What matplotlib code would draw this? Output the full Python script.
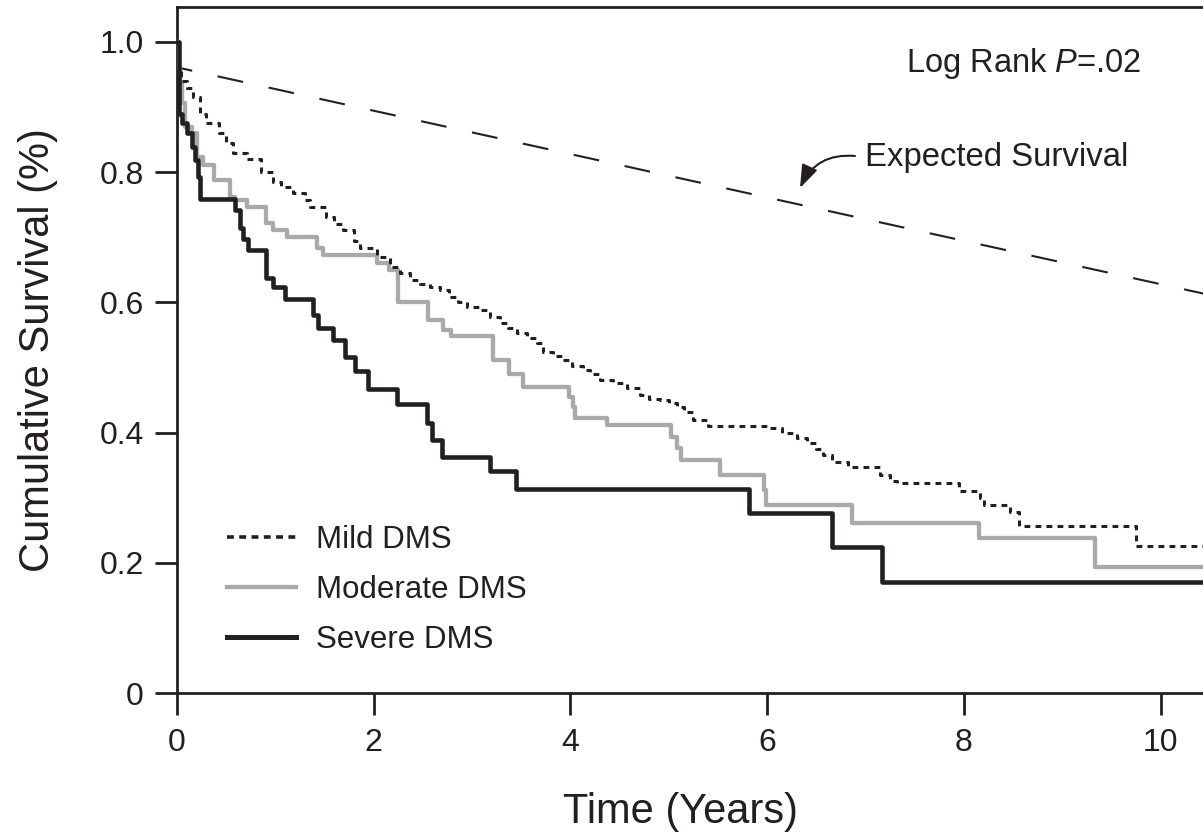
import matplotlib
matplotlib.use("Agg")
import matplotlib.pyplot as plt
from matplotlib.lines import Line2D

plt.rcParams['font.family'] = ['Liberation Sans', 'DejaVu Sans']
plt.rcParams['mathtext.fontset'] = 'custom'
plt.rcParams['mathtext.rm'] = 'Liberation Sans'
plt.rcParams['mathtext.it'] = 'Liberation Sans:italic'

INK = '#231f20'
GRAY = '#a7a9ac'

# ---- data (time in years, cumulative survival) ----
mild_t = [0, 0.02, 0.04, 0.10, 0.16, 0.23, 0.30, 0.43, 0.50, 0.57, 0.71, 0.85, 0.98,
          1.06, 1.18, 1.30, 1.35, 1.52, 1.60, 1.69, 1.80, 1.86, 2.03, 2.17, 2.27, 2.37,
          2.47, 2.57, 2.67, 2.77, 2.86, 2.95, 3.08, 3.18, 3.28, 3.37, 3.46, 3.56, 3.66,
          3.72, 3.82, 3.92, 4.02, 4.13, 4.20, 4.30, 4.43, 4.57, 4.71, 4.80, 4.91, 5.00,
          5.08, 5.15, 5.25, 5.40, 6.03, 6.15, 6.30, 6.40, 6.50, 6.57, 6.66, 6.82, 7.15,
          7.25, 7.32, 7.95, 8.16, 8.20, 8.47, 8.56, 9.75, 10.6]
mild_s = [1.0, 0.96, 0.94, 0.93, 0.916, 0.89, 0.875, 0.86, 0.845, 0.83, 0.82, 0.80, 0.785,
          0.778, 0.768, 0.757, 0.747, 0.731, 0.72, 0.711, 0.695, 0.683, 0.67, 0.655, 0.645, 0.634,
          0.628, 0.624, 0.619, 0.608, 0.60, 0.593, 0.588, 0.578, 0.568, 0.56, 0.553, 0.545, 0.538,
          0.524, 0.518, 0.511, 0.503, 0.496, 0.49, 0.481, 0.476, 0.469, 0.458, 0.452, 0.45, 0.445,
          0.44, 0.432, 0.42, 0.41, 0.407, 0.40, 0.392, 0.384, 0.375, 0.366, 0.355, 0.347, 0.335,
          0.325, 0.322, 0.31, 0.30, 0.289, 0.278, 0.256, 0.226, 0.226]

moderate_t = [0, 0.02, 0.03, 0.05, 0.08, 0.15, 0.20, 0.26, 0.38, 0.54, 0.59, 0.71, 0.91,
              0.98, 1.12, 1.42, 1.48, 2.03, 2.16, 2.25, 2.55, 2.70, 2.79, 3.21, 3.38, 3.52,
              3.99, 4.03, 4.05, 4.37, 5.02, 5.08, 5.12, 5.52, 5.97, 5.99, 6.86, 8.15, 9.33, 10.6]
moderate_s = [1.0, 0.96, 0.937, 0.906, 0.87, 0.86, 0.823, 0.811, 0.788, 0.762, 0.757, 0.747, 0.722,
              0.711, 0.70, 0.683, 0.673, 0.66, 0.65, 0.60, 0.573, 0.558, 0.548, 0.511, 0.49, 0.47,
              0.455, 0.44, 0.422, 0.412, 0.393, 0.376, 0.358, 0.335, 0.312, 0.289, 0.261, 0.238, 0.193, 0.193]

severe_t = [0, 0.02, 0.05, 0.10, 0.15, 0.18, 0.21, 0.23, 0.59, 0.64, 0.67, 0.72, 0.91, 0.98,
            1.10, 1.38, 1.43, 1.585, 1.71, 1.81, 1.94, 2.24, 2.54, 2.59, 2.69, 3.18, 3.45,
            5.81, 6.66, 7.17, 10.6]
severe_s = [1.0, 0.89, 0.876, 0.86, 0.838, 0.818, 0.793, 0.759, 0.742, 0.714, 0.697, 0.68, 0.637, 0.624,
            0.605, 0.58, 0.56, 0.542, 0.516, 0.495, 0.467, 0.444, 0.415, 0.389, 0.363, 0.341, 0.313,
            0.277, 0.225, 0.17, 0.17]

expected_t = [0, 10.6]
expected_s = [0.961, 0.608]

labels = ['Mild DMS', 'Moderate DMS', 'Severe DMS']
x_ticks = [0, 2, 4, 6, 8, 10]
y_ticks = [0, 0.2, 0.4, 0.6, 0.8, 1.0]
y_ticklabels = ['0', '0.2', '0.4', '0.6', '0.8', '1.0']

# ---- figure ----
fig = plt.figure(figsize=(12.03, 8.39), dpi=100)
ax = fig.add_axes([0.1471, 0.1740, 0.8529, 0.8177])
ax.set_xlim(0, 10.43)
ax.set_ylim(0, 1.0538)

ax.plot(expected_t, expected_s, color=INK, lw=1.5, linestyle=(5, (12.5, 12.5)), zorder=2)
ax.step(moderate_t, moderate_s, where='post', color=GRAY, lw=3.1, zorder=3)
ax.step(mild_t, mild_s, where='post', color=INK, lw=2.2, linestyle=(0, (1.9, 1.7)), zorder=4)
ax.step(severe_t, severe_s, where='post', color=INK, lw=3.3, zorder=5)

for side in ['left', 'bottom', 'top']:
    ax.spines[side].set_linewidth(2.0)
    ax.spines[side].set_color(INK)
ax.spines['right'].set_visible(False)

ax.set_xticks(x_ticks)
ax.set_xticklabels([str(v) for v in x_ticks])
ax.set_yticks(y_ticks)
ax.set_yticklabels(y_ticklabels)
ax.tick_params(axis='both', direction='out', length=16, width=2.0, color=INK,
               labelsize=23, labelcolor=INK)
ax.tick_params(axis='x', pad=9)
ax.tick_params(axis='y', pad=8)

ax.set_xlabel('Time (Years)', fontsize=30, color=INK, labelpad=24)
ax.xaxis.set_label_coords(0.491, -0.144)
ax.set_ylabel('Cumulative Survival (%)', fontsize=30, color=INK, labelpad=30)

handles = [Line2D([], [], color=INK, lw=2.6, linestyle=(0, (1.9, 1.5))),
           Line2D([], [], color=GRAY, lw=3.1),
           Line2D([], [], color=INK, lw=3.6)]
ax.legend(handles, labels, loc='upper left', bbox_to_anchor=(0.0487, 0.2449),
          frameon=False, fontsize=22.5, handlelength=2.22, handletextpad=0.62,
          labelspacing=0.64, borderpad=0, borderaxespad=0, labelcolor=INK)

ax.text(0.7105, 0.9052, 'Log Rank $P$=.02', transform=ax.transAxes, fontsize=23.5,
        color=INK, ha='left', va='baseline')
ax.text(0.6706, 0.7682, 'Expected Survival', transform=ax.transAxes, fontsize=23.7,
        color=INK, ha='left', va='baseline')
ax.annotate('', xy=(0.6072, 0.7361), xytext=(0.6608, 0.7828),
            xycoords='axes fraction', textcoords='axes fraction',
            arrowprops=dict(arrowstyle='-|>,head_length=0.7,head_width=0.25',
                            connectionstyle='arc3,rad=0.35',
                            color=INK, lw=1.5, mutation_scale=20, shrinkA=0, shrinkB=0))

fig.savefig('out.png', dpi=100)
